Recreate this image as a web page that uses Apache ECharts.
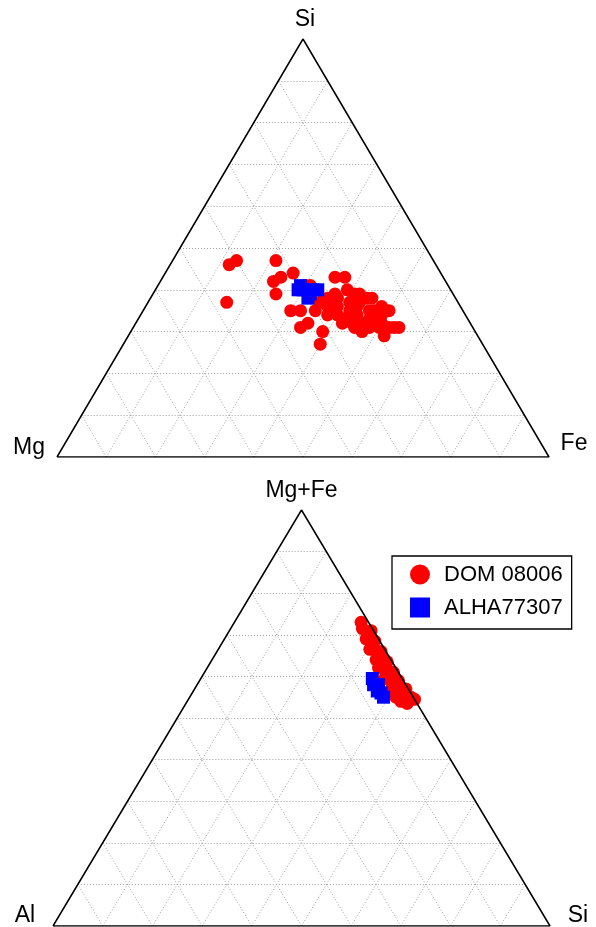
<!DOCTYPE html>
<html>
<head>
<meta charset="utf-8">
<script src="https://cdn.jsdelivr.net/npm/echarts@6/dist/echarts.min.js"></script>
<style>
html,body{margin:0;padding:0;background:#fff;}
#chart{width:596px;height:927px;}
</style>
</head>
<body>
<div id="chart"></div>
<script>
// Gridline ticks (percent)
const ticks = [10, 20, 30, 40, 50, 60, 70, 80, 90];
// Vertex labels: [left, top, right]
const topVertexLabels = ['Mg', 'Si', 'Fe'];
const bottomVertexLabels = ['Al', 'Mg+Fe', 'Si'];
const seriesNames = ['DOM 08006', 'ALHA77307'];

// Top diagram: [Mg, Si, Fe] percent
const domTop = [
  [42,46,12],[40,47,13],[47,37,16],[32,47,21],[33,43,24],[35,42,23],[36,39,25],[30,44,26],
  [28,41,31],[22,43,35],[20,43,37],[35,35,30],[33,32,35],[35,31,34],[31,30,39],[33,27,40],[26,32,42],
  [26,38,36],[24,39,37],[24,38,38],[21,40,39],[20,39,41],[19,39,42],[18,38,44],[17,38,45],[16,36,48],
  [15,35,50],[16,31,53],[17,31,52],[18,32,50],[19,33,48],[21,31,48],[23,30,47],[24,31,45],[24,32,44],
  [26,34,40],[27,35,38],[27,36,37],[28,37,35],[21,36,43],[19,35,46],[18,35,47],[23,35,42],[25,36,39],
  [28,34,38],[19,29,52],[15,31,54],[19,31,50],[33,35,32],[30,35,35],[29,41,30],[28,40,32],
  [22,37,41],[20,37,43],[22,34,44],[20,33,47],[17,34,49],[25,33,42],[22,32,46]
];
const alhaTop = [
  [30,41,29],[30,40,30],[27,40,33],[30,38,32],[29,39,32],[31,40,29],[28,40,32]
];

// Bottom diagram: [Al, Mg+Fe, Si] percent
const domBottom = [
  [1.5,73,25.5],[0.5,71,28.5],[2,71.5,26.5],[1.5,70,28.5],[2.5,69,28.5],[1,68.5,30.5],[2,67.5,30.5],
  [3,66.5,30.5],[1,66,33],[2,65,33],[3,64,33],[1,63.5,35.5],[2,62.5,35.5],[3.5,62,34.5],[1,61,38],
  [2.5,60.5,37],[3.5,59.5,37],[1,59,40],[2,58,40],[3,57.5,39.5],[0.5,57,42.5],[1.5,56.5,42],[3,56,41],
  [2,55,43],[3.5,55,41.5],[0.5,55,44.5],[1.5,54,44.5],[0,54.5,45.5],[2,53.5,44.5],[3,54,43],[2,60,38],
  [1.5,64,34.5],[2.5,63,34.5]
];
const alhaBottom = [
  [6,59.5,34.5],[5.5,58,36.5],[6.5,56.5,37],[6,56,38],[6,55,39],[6.5,58,35.5]
];

function toXY(c) {
  const s = c[0] + c[1] + c[2];
  return [(c[2] + c[1] / 2) / s, c[1] / s];
}

function gridLines() {
  const out = [];
  ticks.forEach(function (t) {
    const f = t / 100;
    out.push({coords: [[f / 2, f], [1 - f / 2, f]]});
    out.push({coords: [[f, 0], [f + (1 - f) / 2, 1 - f]]});
    out.push({coords: [[1 - f, 0], [(1 - f) / 2, 1 - f]]});
  });
  return out;
}

const FONT = 'Liberation Sans, Arial, Helvetica, sans-serif';

function diagramSeries(g, dom, alha, labels, offsets) {
  return [
    {
      type: 'lines', coordinateSystem: 'cartesian2d', xAxisIndex: g, yAxisIndex: g,
      data: gridLines(), silent: true, z: 1,
      lineStyle: {color: '#a0a0a0', width: 1, type: [1, 2], opacity: 1}
    },
    {
      name: seriesNames[0], type: 'scatter', xAxisIndex: g, yAxisIndex: g,
      symbol: 'circle', symbolSize: 13, z: 3,
      itemStyle: {color: '#ff0000', opacity: 1},
      data: dom.map(toXY)
    },
    {
      name: seriesNames[1], type: 'scatter', xAxisIndex: g, yAxisIndex: g,
      symbol: 'rect', symbolSize: 13, z: 4,
      itemStyle: {color: '#0000ff', opacity: 1},
      data: alha.map(toXY)
    },
    {
      type: 'line', xAxisIndex: g, yAxisIndex: g, symbol: 'none', silent: true, z: 5,
      lineStyle: {color: '#000', width: 1.5},
      data: [[0, 0], [1, 0], [0.5, 1], [0, 0]]
    },
    {
      type: 'scatter', xAxisIndex: g, yAxisIndex: g, symbolSize: 1, silent: true, z: 6,
      itemStyle: {color: 'rgba(0,0,0,0)', opacity: 1},
      data: [
        {value: [0, 0], name: labels[0], label: {offset: offsets[0]}},
        {value: [0.5, 1], name: labels[1], label: {offset: offsets[1]}},
        {value: [1, 0], name: labels[2], label: {offset: offsets[2]}}
      ],
      label: {
        show: true, position: 'inside', formatter: '{b}', color: '#000', opacity: 1,
        fontSize: 23, fontFamily: FONT, align: 'center', verticalAlign: 'middle'
      }
    }
  ];
}

const chart = echarts.init(document.getElementById('chart'), null, {renderer: 'canvas'});
chart.setOption({
  animation: false,
  backgroundColor: '#fff',
  grid: [
    {left: 57, top: 39, width: 492, height: 418},
    {left: 53, top: 510, width: 497, height: 416}
  ],
  xAxis: [
    {type: 'value', gridIndex: 0, min: 0, max: 1, show: false},
    {type: 'value', gridIndex: 1, min: 0, max: 1, show: false}
  ],
  yAxis: [
    {type: 'value', gridIndex: 0, min: 0, max: 1, show: false},
    {type: 'value', gridIndex: 1, min: 0, max: 1, show: false}
  ],
  legend: {
    orient: 'vertical', left: 392, top: 556,
    data: [{name: seriesNames[0], icon: 'circle'}, {name: seriesNames[1], icon: 'rect'}],
    itemWidth: 20, itemHeight: 20, itemGap: 10,
    padding: [7, 9, 10, 18],
    borderColor: '#000', borderWidth: 1.3, backgroundColor: '#fff',
    selectedMode: false, z: 10,
    textStyle: {fontSize: 22, color: '#000', fontFamily: FONT, lineHeight: 23, padding: [0, 0, 0, 9]}
  },
  series: [].concat(
    diagramSeries(0, domTop, alhaTop, topVertexLabels, [[-28, -9], [2, -19], [25, -13]]),
    diagramSeries(1, domBottom, alhaBottom, bottomVertexLabels, [[-28, -10], [0, -19], [28, -10]])
  )
});
</script>
</body>
</html>
